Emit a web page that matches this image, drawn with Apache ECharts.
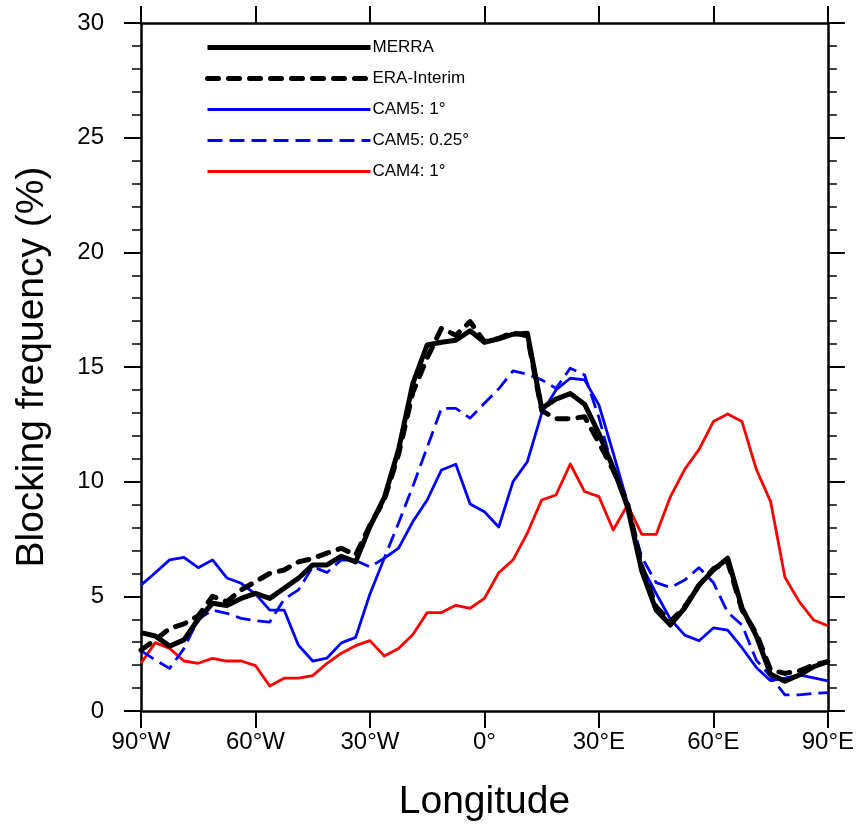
<!DOCTYPE html>
<html>
  <head>
    <meta charset="utf-8" />
    <title>Blocking frequency</title>
    <script src="https://cdn.jsdelivr.net/npm/echarts@6.0.0/dist/echarts.min.js"></script>
  </head>
  <body style="margin: 0">
    <div id="main" style="width: 857px; height: 827px"></div>

    <script>
      // longitudes (deg, negative = W)
      var lons = [
        -90, -86.25, -82.5, -78.75, -75, -71.25, -67.5, -63.75, -60, -56.25,
        -52.5, -48.75, -45, -41.25, -37.5, -33.75, -30, -26.25, -22.5, -18.75,
        -15, -11.25, -7.5, -3.75, 0, 3.75, 7.5, 11.25, 15, 18.75, 22.5, 26.25,
        30, 33.75, 37.5, 41.25, 45, 48.75, 52.5, 56.25, 60, 63.75, 67.5, 71.25,
        75, 78.75, 82.5, 86.25, 90,
      ];

      var merra = [
        3.42, 3.27, 2.83, 3.1, 4.0, 4.7, 4.6, 4.91, 5.13, 4.91, 5.35, 5.79,
        6.37, 6.37, 6.75, 6.5, 8.04, 9.3, 11.4, 14.29, 15.96, 16.08, 16.17,
        16.58, 16.08, 16.23, 16.43, 16.47, 13.2, 13.6, 13.84, 13.38, 12.1, 10.6,
        8.9, 6.1, 4.4, 3.75, 4.5, 5.49, 6.15, 6.66, 4.5, 3.28, 1.6, 1.3, 1.57,
        1.93, 2.15,
      ];

      var eraInterim = [
        2.66, 3.1, 3.6, 3.8, 4.15, 5.0, 4.77, 5.28, 5.64, 6.0, 6.15, 6.5, 6.65,
        6.88, 7.1, 6.8, 8.1, 9.2, 11.2, 13.9, 15.4, 16.69, 16.38, 16.98, 16.1,
        16.25, 16.5, 16.35, 13.1, 12.74, 12.75, 12.83, 11.7, 10.5, 9.07, 6.3,
        4.55, 3.9, 4.55, 5.49, 6.2, 6.5, 4.4, 3.39, 1.79, 1.64, 1.75, 2.0, 2.15,
      ];

      var cam5_1 = [
        5.49, 6.03, 6.59, 6.7, 6.25, 6.59, 5.8, 5.57, 5.1, 4.4, 4.4, 2.87, 2.18,
        2.31, 2.97, 3.21, 5.1, 6.66, 7.1, 8.26, 9.2, 10.51, 10.76, 9.03, 8.69,
        8.02, 10.0, 10.87, 12.98, 14.0, 14.51, 14.44, 13.35, 11.25, 9.07, 6.3,
        5.13, 4.0, 3.31, 3.06, 3.62, 3.53, 2.76, 1.9, 1.32, 1.43, 1.57, 1.44,
        1.31,
      ];

      var cam5_025 = [
        2.63, 2.22, 1.86, 2.72, 4.0, 4.4, 4.26, 4.04, 3.94, 3.88, 4.87, 5.28,
        6.29, 6.04, 6.59, 6.56, 6.28, 6.66, 8.2, 9.8, 11.5, 13.2, 13.2, 12.77,
        13.42, 14.05, 14.83, 14.68, 14.44, 14.07, 14.95, 14.65, 12.8, 10.5, 8.9,
        6.7, 5.6, 5.39, 5.71, 6.25, 5.6, 4.3, 3.75, 2.22, 1.5, 0.7, 0.7, 0.77,
        0.8,
      ];

      var cam4_1 = [
        2.08, 2.98, 2.73, 2.18, 2.08, 2.3, 2.18, 2.18, 1.98, 1.09, 1.43, 1.43,
        1.54, 2.08, 2.52, 2.85, 3.07, 2.4, 2.73, 3.34, 4.29, 4.29, 4.61, 4.48,
        4.91, 6.03, 6.59, 7.76, 9.2, 9.42, 10.77, 9.57, 9.35, 7.89, 8.98, 7.7,
        7.7, 9.35, 10.54, 11.41, 12.62, 12.95, 12.62, 10.54, 9.13, 5.83, 4.77,
        3.97, 3.72,
      ];

      var legendNames = ["MERRA", "ERA-Interim", "CAM5: 1°", "CAM5: 0.25°", "CAM4: 1°"];

      var FONT = "Liberation Sans, Arial, Helvetica, sans-serif";

      function pairs(vals) {
        return lons.map(function (x, i) {
          return [x, vals[i]];
        });
      }

      function lonLabel(v) {
        if (v < 0) return -v + "°W";
        if (v > 0) return v + "°E";
        return "0°";
      }

      function line(name, vals, color, width, dash, cap) {
        return {
          name: name,
          type: "line",
          data: pairs(vals),
          symbol: "none",
          xAxisIndex: 0,
          yAxisIndex: 0,
          lineStyle: {
            color: color,
            width: width,
            type: dash,
            cap: cap || "butt",
            join: "round",
          },
          itemStyle: { color: color },
        };
      }

      var axisLineStyle = { color: "#000", width: 2.5 };
      var tickStyle = { color: "#000", width: 2 };
      var minorStyle = { color: "#000", width: 1.5 };

      var myChart = echarts.init(document.getElementById("main"));

      var option = {
        animation: false,
        backgroundColor: "#fff",
        grid: { left: 141, right: 28, top: 23, bottom: 116 },
        legend: {
          orient: "vertical",
          left: 205,
          top: 39,
          padding: 0,
          itemWidth: 163,
          itemHeight: 20,
          itemGap: 14,
          itemStyle: { opacity: 0 },
          lineStyle: { width: "inherit" },
          textStyle: {
            fontFamily: FONT,
            fontSize: 17,
            color: "#000",
            padding: [0, 0, 0, -3],
          },
          data: legendNames,
        },
        xAxis: [
          {
            type: "value",
            min: -90,
            max: 90,
            interval: 30,
            name: "Longitude",
            nameLocation: "middle",
            nameGap: 72,
            nameTextStyle: { fontFamily: FONT, fontSize: 39, color: "#000" },
            axisLine: { onZero: false, lineStyle: axisLineStyle },
            axisTick: { length: 17, lineStyle: tickStyle },
            axisLabel: {
              formatter: lonLabel,
              fontFamily: FONT,
              fontSize: 24,
              color: "#000",
              margin: 19,
            },
            splitLine: { show: false },
          },
          {
            type: "value",
            position: "top",
            min: -90,
            max: 90,
            interval: 30,
            axisLine: { onZero: false, lineStyle: axisLineStyle },
            axisTick: { length: 17, lineStyle: tickStyle },
            axisLabel: { show: false },
            splitLine: { show: false },
          },
        ],
        yAxis: [
          {
            type: "value",
            min: 0,
            max: 30,
            interval: 5,
            name: "Blocking frequency (%)",
            nameLocation: "middle",
            nameGap: 89,
            nameTextStyle: { fontFamily: FONT, fontSize: 39, color: "#000" },
            axisLine: { show: true, onZero: false, lineStyle: axisLineStyle },
            axisTick: { length: 17, lineStyle: tickStyle },
            minorTick: { show: true, splitNumber: 5, length: 9, lineStyle: minorStyle },
            axisLabel: {
              fontFamily: FONT,
              fontSize: 24,
              color: "#000",
              margin: 37,
            },
            splitLine: { show: false },
          },
          {
            type: "value",
            position: "right",
            min: 0,
            max: 30,
            interval: 5,
            axisLine: { show: true, onZero: false, lineStyle: axisLineStyle },
            axisTick: { length: 17, lineStyle: tickStyle },
            minorTick: { show: true, splitNumber: 5, length: 9, lineStyle: minorStyle },
            axisLabel: { show: false },
            splitLine: { show: false },
          },
        ],
        series: [
          line("CAM4: 1°", cam4_1, "#ff0000", 2.8, "solid"),
          line("CAM5: 0.25°", cam5_025, "#0000ff", 2.8, [15, 7]),
          line("CAM5: 1°", cam5_1, "#0000ff", 2.8, "solid"),
          line("ERA-Interim", eraInterim, "#000000", 5, [11, 10], "round"),
          line("MERRA", merra, "#000000", 5, "solid"),
        ],
      };

      myChart.setOption(option);
    </script>
  </body>
</html>
